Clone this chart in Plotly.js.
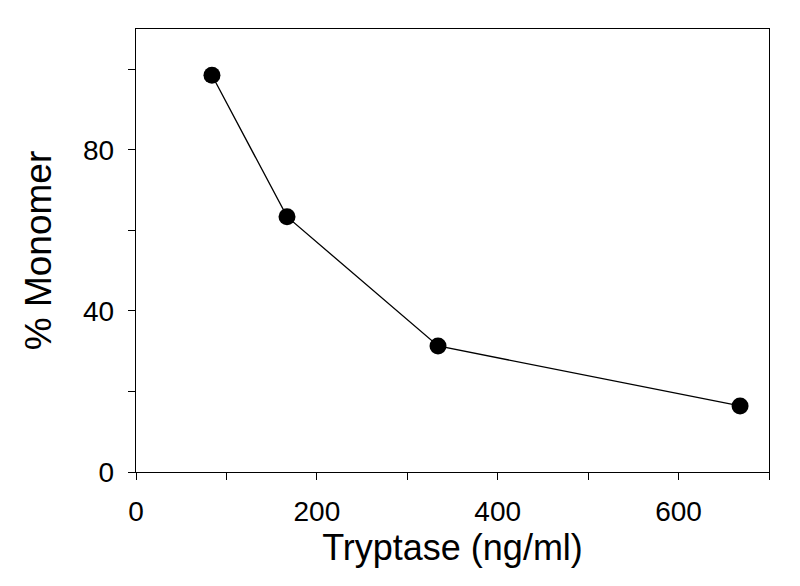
<!DOCTYPE html>
<html>
<head>
<meta charset="utf-8">
<script src="https://cdn.plot.ly/plotly-3.0.1.min.js"></script>
<style>html,body{margin:0;padding:0;background:#fff;}#chart{width:800px;height:586px;}</style>
</head>
<body>
<div id="chart"></div>
<script>
const tryptase = [84, 167, 334, 668];
const monomer = [98.5, 63.4, 31.3, 16.4];
const xTicks = [0, 200, 400, 600];
const yTicks = [0, 40, 80];

const trace = {
  x: tryptase, y: monomer, type: 'scatter', mode: 'lines+markers',
  line: {color: '#000', width: 1.3},
  marker: {color: '#000', size: 17, symbol: 'circle'},
  cliponaxis: false, showlegend: false
};

const layout = {
  width: 800, height: 586,
  margin: {l: 136, r: 31, t: 29, b: 114},
  paper_bgcolor: '#fff', plot_bgcolor: '#fff',
  font: {family: 'Liberation Sans, Arial, sans-serif', color: '#000'},
  xaxis: {
    range: [0, 700], showgrid: false, zeroline: false,
    showline: true, linecolor: '#000', linewidth: 1.3, mirror: true,
    tickmode: 'array', tickvals: xTicks, ticktext: xTicks.map(String),
    ticks: 'outside', ticklen: 7, tickcolor: '#000', tickwidth: 1,
    ticklabelstandoff: 7,
    minor: {dtick: 100, tick0: 0, ticks: 'outside', ticklen: 7, tickcolor: '#000', tickwidth: 1, showgrid: false},
    tickfont: {size: 28, family: 'Liberation Sans, Arial, sans-serif'},
    title: {text: 'Tryptase (ng/ml)', font: {size: 36}, standoff: 8}
  },
  yaxis: {
    range: [0, 110], showgrid: false, zeroline: false,
    showline: true, linecolor: '#000', linewidth: 1.3, mirror: true,
    tickmode: 'array', tickvals: yTicks, ticktext: yTicks.map(String),
    ticks: 'outside', ticklen: 7, tickcolor: '#000', tickwidth: 1,
    ticklabelstandoff: 8,
    minor: {dtick: 20, tick0: 0, ticks: 'outside', ticklen: 7, tickcolor: '#000', tickwidth: 1, showgrid: false},
    tickfont: {size: 28, family: 'Liberation Sans, Arial, sans-serif'},
    title: {text: '% Monomer', font: {size: 37}, standoff: 20}
  }
};

Plotly.newPlot('chart', [trace], layout, {staticPlot: true, displayModeBar: false});
</script>
</body>
</html>
